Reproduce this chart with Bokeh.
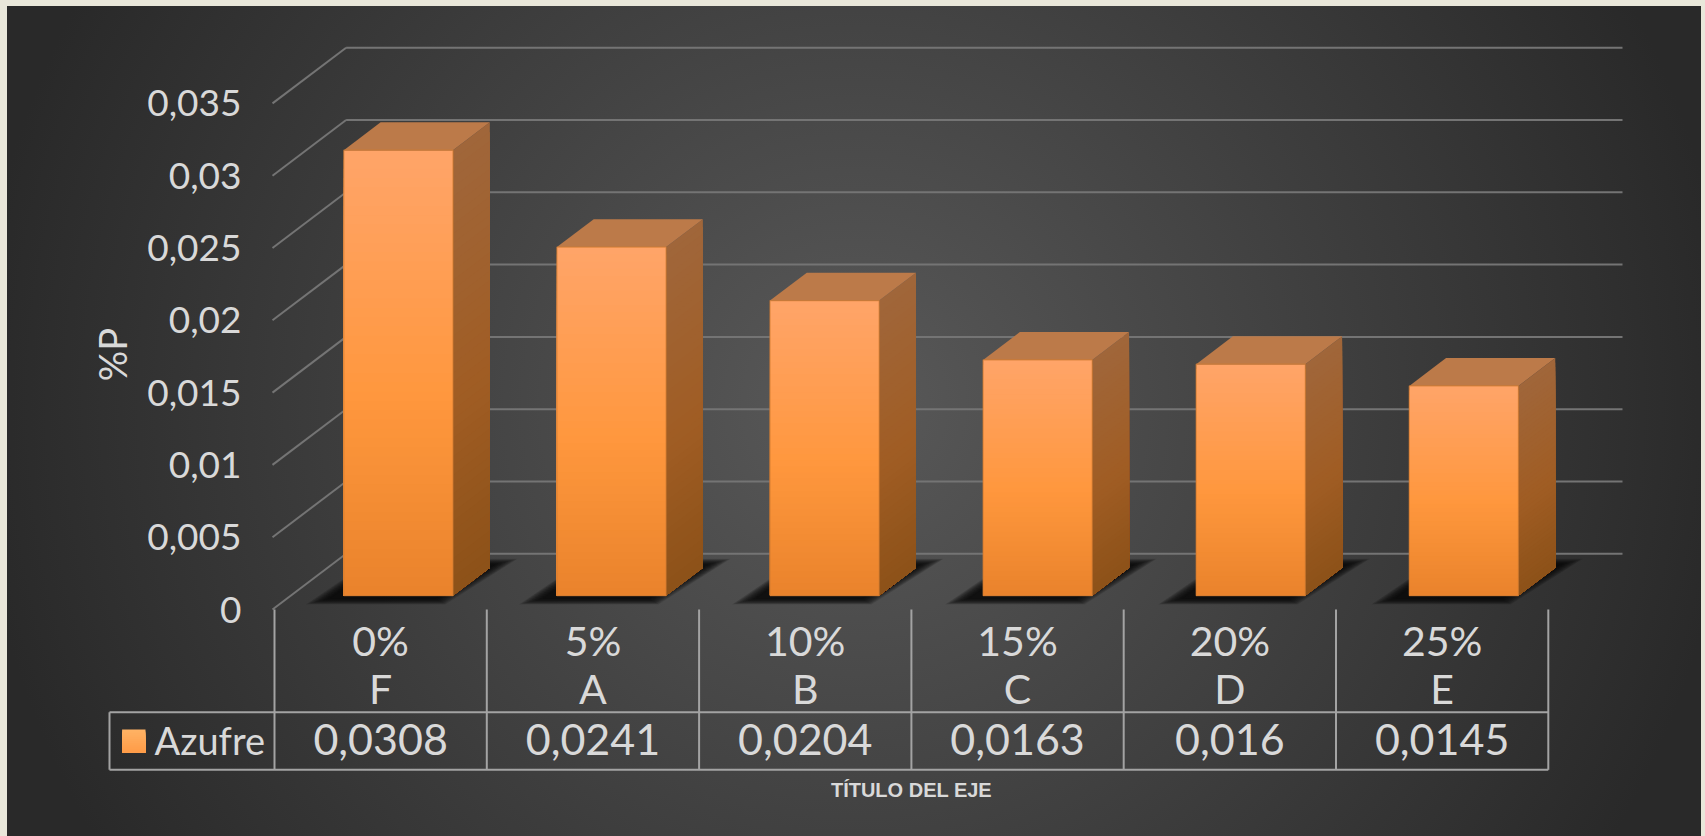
import math

import numpy as np
from bokeh.core.properties import value
from bokeh.embed import file_html
from bokeh.models import FixedTicker, Range1d
from bokeh.plotting import figure
from bokeh.resources import INLINE

# Sulphur content per treatment
doses = ["0%", "5%", "10%", "15%", "20%", "25%"]
groups = ["F", "A", "B", "C", "D", "E"]
azufre = [0.0308, 0.0241, 0.0204, 0.0163, 0.016, 0.0145]
azufre_labels = ["0,0308", "0,0241", "0,0204", "0,0163", "0,016", "0,0145"]
y_ticks = [0, 0.005, 0.01, 0.015, 0.02, 0.025, 0.03, 0.035]
y_tick_labels = ["0", "0,005", "0,01", "0,015", "0,02", "0,025", "0,03", "0,035"]

W, H = 1705, 836
FONT = "Lato"
TEXT = "#d9d9d9"

# Pixel geometry of the chart box
FRAME_LEFT = 268
X0, CELL = 274.0, 212.3       # first category boundary, category width
Y0, PER_UNIT = 609.0, 14460.0  # zero line, pixels per unit of %P
DX = 73.6 / CELL              # receding offset of the back wall, in data units
DY = 55.7 / PER_UNIT
WALL_X = -2.0 / CELL          # the side wall starts just left of the table
BAR_HALF = 54.6 / CELL
BAR_FIRST, BAR_STEP = 0.497, 1.0037
D_FRONT, D_BACK = 0.25, 0.75
WALL_END = (1622 - X0) / CELL - DX

ROW_TOP = (Y0 - 711.7) / PER_UNIT
ROW_BOTTOM = (Y0 - 769.3) / PER_UNIT
n = len(azufre)


def px_x(px):
    return (px - X0) / CELL


def px_y(py):
    return (Y0 - py) / PER_UNIT


def hexramp(stops, t):
    pos = [s[0] for s in stops]
    chans = [np.interp(t, pos, [int(s[1][i:i + 2], 16) for s in stops]) for i in (1, 3, 5)]
    return "#%02x%02x%02x" % tuple(int(round(c)) for c in chans)


y_range = Range1d(px_y(H), px_y(0))

p = figure(
    width=W,
    height=H,
    output_backend="svg",
    toolbar_location=None,
    x_range=Range1d(px_x(FRAME_LEFT), px_x(W)),
    y_range=y_range,
    min_border_left=FRAME_LEFT,
    min_border_right=0,
    min_border_top=0,
    min_border_bottom=0,
    outline_line_color=None,
    background_fill_color=None,
    border_fill_color=None,
    styles={
        "background": "radial-gradient(ellipse 880px 860px at 50% 48%, #595959 0%, #292929 100%) "
        "no-repeat 7px 6px / 1694px 830px, #e9e7da",
    },
)
p.grid.visible = False
p.xaxis.visible = False

# Value axis along the front edge of the left wall
axis = p.yaxis[0]
axis.ticker = FixedTicker(ticks=y_ticks)
axis.major_label_overrides = dict(zip(y_ticks, y_tick_labels))
axis.axis_line_color = None
axis.major_tick_line_color = None
axis.minor_tick_line_color = None
axis.major_label_standoff = 21
axis.major_label_text_font = FONT
axis.major_label_text_font_size = "37px"
axis.major_label_text_color = TEXT

# Walls: horizontal rules on the back, diagonals on the left side
GRID = "#747474"
p.segment([WALL_X] * len(y_ticks), y_ticks, [WALL_X + DX] * len(y_ticks), [v + DY for v in y_ticks],
          line_color=GRID, line_width=2)
p.segment([WALL_X + DX] * len(y_ticks), [v + DY for v in y_ticks],
          [WALL_END + DX] * len(y_ticks), [v + DY for v in y_ticks],
          line_color=GRID, line_width=2)

# Floor shadows, built from stacked translucent layers to soften the edge
for i in range(n):
    c = BAR_FIRST + i * BAR_STEP
    for grow in np.linspace(1.0, 0.0, 18):
        ex = 0.012 + 0.115 * grow
        ey = 0.0007 * grow
        xs = [c - BAR_HALF - ex + 0.035, c + BAR_HALF + ex * 0.4,
              c + BAR_HALF + DX * 0.76 + ex, c - BAR_HALF + DX * 0.72 - ex * 0.2]
        ys = [DY * 0.2 - ey * 0.6, DY * 0.2 - ey * 0.6, DY * 0.8 + ey * 0.6, DY * 0.8 + ey * 0.6]
        p.patch(xs, ys, fill_color="#0c0c0c", fill_alpha=0.10, line_color=None)

# Bars: oblique boxes whose height comes from the series values
FRONT_RAMP = [(0.0, "#ffa468"), (0.55, "#ff973d"), (1.0, "#e9822b")]
SIDE_RAMP = [(0.0, "#a0663a"), (0.55, "#a05d24"), (1.0, "#8c5118")]
TOP_COLOR = "#bc7a49"
BANDS = 48
for i, v in enumerate(azufre):
    c = BAR_FIRST + i * BAR_STEP
    xl = c - BAR_HALF + D_FRONT * DX
    xr = c + BAR_HALF + D_FRONT * DX
    yb = D_FRONT * DY
    depth_x = (D_BACK - D_FRONT) * DX
    depth_y = (D_BACK - D_FRONT) * DY
    # each band reaches down to the base and is overpainted by the next one
    for k in range(BANDS):
        t = k / BANDS
        level = v * (1 - t)
        p.quad(left=[xl], right=[xr], bottom=[yb], top=[yb + level],
               fill_color=hexramp(FRONT_RAMP, t), line_color=None)
        p.patch([xr, xr + depth_x, xr + depth_x, xr],
                [yb + level, yb + depth_y + level, yb + depth_y, yb],
                fill_color=hexramp(SIDE_RAMP, t), line_color=None)
    p.patch([xl, xr, xr + depth_x, xl + depth_x],
            [yb + v, yb + v, yb + v + depth_y, yb + v + depth_y],
            fill_color=TOP_COLOR, line_color=None)
    p.quad(left=[xl], right=[xr], bottom=[yb], top=[yb + v], fill_color=None,
           line_color="#d07a30", line_width=1.2, line_alpha=0.7)

# Transparent sheet over the whole page for the data table and the texts around it,
# sharing the value scale of the plot
sheet = figure(
    width=W,
    height=H,
    output_backend="svg",
    toolbar_location=None,
    x_range=Range1d(px_x(0), px_x(W)),
    y_range=y_range,
    min_border=0,
    outline_line_color=None,
    background_fill_color=None,
    border_fill_color=None,
    styles={"position": "absolute", "left": "0px", "top": "0px", "pointer-events": "none"},
)
sheet.grid.visible = False
sheet.axis.visible = False

TABLE = "#a3a3a3"
LEGEND_LEFT = px_x(109)
bounds = list(range(n + 1))
sheet.segment(bounds, [0] * (n + 1), bounds, [ROW_BOTTOM] * (n + 1), line_color=TABLE, line_width=2)
sheet.segment([0, LEGEND_LEFT], [ROW_TOP, ROW_BOTTOM], [n, n], [ROW_TOP, ROW_BOTTOM],
              line_color=TABLE, line_width=2)
sheet.segment([LEGEND_LEFT, LEGEND_LEFT], [ROW_TOP, ROW_TOP], [0, LEGEND_LEFT], [ROW_TOP, ROW_BOTTOM],
              line_color=TABLE, line_width=2)

centers = [i + 0.5 for i in range(n)]
for labels, py, size in ((doses, 640, "41px"), (groups, 688, "41px"), (azufre_labels, 739, "43px")):
    sheet.text(centers, [px_y(py)] * n, text=labels, text_align="center", text_baseline="middle",
               text_font=value(FONT), text_font_size=size, text_color=TEXT)

# Legend swatch with its series name
SWATCH_RAMP = [(0.0, "#ffb264"), (1.0, "#ff9c48")]
for k in range(12):
    sheet.quad(left=[px_x(121.6)], right=[px_x(145)], top=[px_y(729 + k * 23 / 12)], bottom=[px_y(752)],
               fill_color=hexramp(SWATCH_RAMP, k / 11), line_color=None)
sheet.text([px_x(154)], [px_y(739)], text=["Azufre"], text_align="left", text_baseline="middle",
           text_font=value(FONT), text_font_size="38px", text_color=TEXT)

sheet.text([px_x(111)], [px_y(354)], text=["%P"], angle=math.pi / 2, text_align="center",
           text_baseline="middle", text_font=value(FONT), text_font_size="38px", text_color=TEXT)
sheet.text([px_x(911)], [px_y(789)], text=["TÍTULO DEL EJE"], text_align="center", text_baseline="middle",
           text_font=value("Liberation Sans"), text_font_size="20px", text_font_style="bold",
           text_color=TEXT)

open("out.html", "w").write(file_html([p, sheet], INLINE))
